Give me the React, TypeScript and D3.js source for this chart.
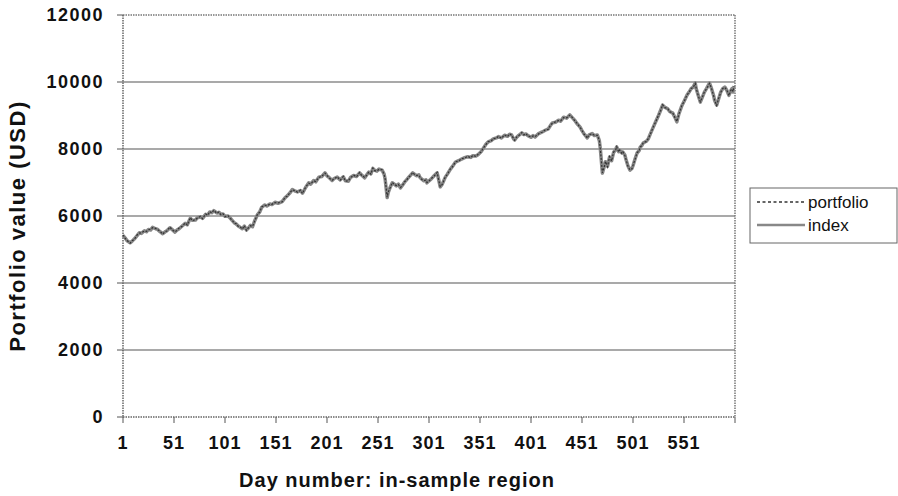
import React from "react";
import * as d3 from "d3";

const days = [1,3,5,8,10,12,15,17,19,22,24,26,28,30,33,35,37,40,42,44,47,49,52,54,56,59,62,64,67,69,72,74,77,79,82,84,86,88,90,93,95,97,99,101,104,106,108,110,112,114,116,118,120,122,124,126,128,130,133,135,137,140,142,145,147,150,153,157,160,162,165,167,170,172,175,177,180,183,185,188,190,193,196,199,201,203,206,208,211,214,217,219,222,224,227,230,233,235,238,240,242,244,246,248,250,252,255,257,258,260,261,263,265,267,269,271,273,275,277,279,281,283,285,287,289,291,292,294,296,298,299,301,303,306,309,310,312,314,317,319,322,324,327,330,333,336,339,342,344,347,349,352,354,357,359,362,364,367,369,372,375,378,380,382,384,385,387,389,392,394,396,398,401,403,405,408,410,412,415,418,420,422,425,428,430,433,436,439,441,444,446,449,451,453,455,456,458,461,463,466,468,469,471,473,474,476,478,480,482,484,485,487,488,490,491,493,494,496,498,500,501,503,505,507,508,510,511,514,516,518,521,523,526,528,530,532,535,537,540,542,544,546,549,551,554,556,558,560,562,563,565,567,569,571,573,576,578,580,581,583,585,587,589,591,593,595,597,598,599,600];

const indexValues = [5420,5350,5260,5200,5250,5310,5420,5500,5480,5560,5530,5600,5580,5660,5620,5600,5540,5470,5520,5560,5650,5600,5520,5580,5620,5700,5780,5740,5930,5870,5880,5950,5970,5930,6050,6030,6120,6100,6160,6090,6110,6050,6060,5990,6000,5940,5870,5800,5760,5700,5660,5620,5700,5580,5640,5720,5680,5850,6050,6120,6260,6330,6300,6360,6340,6410,6380,6430,6550,6600,6700,6790,6740,6720,6760,6680,6850,6990,6950,7060,7020,7160,7180,7290,7200,7150,7060,7120,7160,7080,7170,7050,7040,7150,7210,7180,7290,7220,7140,7230,7310,7260,7420,7360,7340,7400,7370,7250,7100,6550,6700,6860,6990,6950,6900,6950,6840,6920,7010,7080,7150,7220,7290,7240,7200,7230,7160,7100,7050,7080,6990,7050,7100,7200,7290,7150,6870,6950,7160,7250,7400,7480,7610,7650,7700,7740,7770,7750,7800,7790,7830,7920,8010,8150,8210,8250,8300,8330,8370,8330,8410,8380,8440,8420,8300,8270,8350,8410,8480,8430,8450,8400,8350,8400,8360,8450,8480,8510,8560,8600,8700,8780,8800,8860,8830,8950,8920,9020,8950,8850,8760,8660,8550,8450,8380,8330,8420,8460,8400,8420,8250,8000,7280,7500,7620,7480,7760,7650,7900,7980,8060,7920,7960,7880,7910,7820,7700,7500,7370,7420,7500,7700,7880,7950,8050,8120,8180,8230,8300,8450,8660,8800,9000,9150,9310,9250,9200,9120,9070,8950,8810,9050,9300,9420,9610,9700,9800,9850,9970,9800,9600,9400,9550,9700,9800,9970,9800,9600,9450,9310,9500,9700,9800,9850,9750,9600,9750,9800,9700,9880];

const portfolioValues = [5440,5340,5270,5190,5260,5300,5440,5490,5500,5550,5540,5590,5600,5650,5630,5590,5550,5460,5530,5550,5670,5590,5530,5570,5640,5690,5790,5730,5950,5860,5890,5940,5990,5920,6060,6020,6130,6090,6170,6080,6120,6040,6070,5980,6010,5930,5880,5790,5770,5690,5670,5610,5710,5570,5650,5710,5690,5840,6060,6110,6270,6320,6310,6350,6350,6400,6390,6420,6560,6590,6710,6780,6750,6710,6770,6670,6860,6980,6960,7050,7030,7150,7190,7280,7210,7140,7070,7110,7170,7070,7180,7040,7050,7140,7220,7170,7300,7210,7150,7220,7320,7250,7430,7350,7350,7390,7380,7240,7110,6560,6710,6850,7000,6940,6910,6940,6850,6910,7020,7070,7160,7210,7300,7230,7210,7220,7170,7090,7060,7070,7000,7040,7110,7190,7300,7140,6880,6940,7170,7240,7410,7470,7620,7640,7710,7730,7780,7740,7810,7780,7840,7910,8020,8140,8220,8240,8310,8320,8380,8320,8420,8370,8450,8410,8310,8260,8360,8400,8490,8420,8460,8390,8360,8390,8370,8440,8490,8500,8570,8590,8710,8770,8810,8850,8840,8940,8930,9010,8960,8840,8770,8650,8560,8440,8390,8320,8430,8450,8410,8410,8260,7990,7290,7490,7630,7470,7770,7640,7910,7970,8070,7910,7970,7870,7920,7810,7710,7490,7380,7410,7510,7690,7890,7940,8060,8110,8190,8220,8310,8440,8670,8790,9010,9140,9320,9240,9210,9110,9080,8940,8820,9040,9310,9410,9620,9690,9810,9840,9960,9810,9590,9410,9540,9710,9790,9960,9810,9590,9460,9300,9510,9690,9810,9840,9760,9590,9760,9790,9710,9870];

const yTicks = [0, 2000, 4000, 6000, 8000, 10000, 12000];
const xTickLabels = [1, 51, 101, 151, 201, 251, 301, 351, 401, 451, 501, 551];
const xTickMarks = [1, 51, 101, 151, 201, 251, 301, 351, 401, 451, 501, 551, 601];
const seriesNames = ["portfolio", "index"];

export default function App() {
  const left = 123, right = 735, top = 15, bottom = 417;
  const x = d3.scaleLinear().domain([1, 601]).range([left, right]);
  const y = d3.scaleLinear().domain([0, 12000]).range([bottom, top]);
  const line = d3.line<[number, number]>().x(d => x(d[0])).y(d => y(d[1]));
  const idx = line(days.map((d, i) => [d, indexValues[i]]) as [number, number][]) || "";
  const pf = line(days.map((d, i) => [d, portfolioValues[i]]) as [number, number][]) || "";
  const font = "'Liberation Sans', Arial, Helvetica, sans-serif";

  return (
    <svg width={898} height={496} style={{ position: "absolute", left: 0, top: 0, background: "#fff" }} fontFamily={font}>
      {yTicks.filter(t => t > 0 && t < 12000).map(t => (
        <line key={t} x1={left} x2={right} y1={y(t)} y2={y(t)} stroke="#555" strokeWidth={1.2} />
      ))}
      <line x1={left} x2={right} y1={top} y2={top} stroke="#777" strokeWidth={1.5} strokeDasharray="1.5,1" />
      <line x1={left} x2={left} y1={top} y2={bottom} stroke="#666" strokeWidth={1.5} strokeDasharray="1.5,1" />
      <line x1={right} x2={right} y1={top} y2={bottom} stroke="#777" strokeWidth={1.5} strokeDasharray="1.5,1" />
      <line x1={left} x2={right} y1={bottom} y2={bottom} stroke="#666" strokeWidth={1.5} strokeDasharray="1.5,1" />
      {yTicks.map(t => (
        <g key={t}>
          <line x1={left - 6} x2={left} y1={y(t)} y2={y(t)} stroke="#555" strokeWidth={1} />
          <text x={104} y={y(t)} dy="0.36em" textAnchor="end" fontSize={18} fontWeight="bold" letterSpacing={1.5} fill="#111">{t}</text>
        </g>
      ))}
      {xTickMarks.map(t => (
        <line key={t} x1={x(t)} x2={x(t)} y1={bottom} y2={bottom + 6} stroke="#555" strokeWidth={1} />
      ))}
      {xTickLabels.map(t => (
        <text key={t} x={x(t)} y={449} textAnchor="middle" fontSize={18} fontWeight="bold" letterSpacing={1} fill="#111">{t}</text>
      ))}
      <path d={idx} fill="none" stroke="#888" strokeWidth={3.5} strokeLinejoin="round" />
      <path d={pf} fill="none" stroke="#333" strokeWidth={1.2} strokeDasharray="2,1.5" />
      <text x={397} y={487} textAnchor="middle" fontSize={20} fontWeight="bold" letterSpacing={1} fill="#111">Day number: in-sample region</text>
      <text transform="translate(25,226) rotate(-90)" textAnchor="middle" fontSize={22} fontWeight="bold" letterSpacing={1.5} fill="#111">Portfolio value (USD)</text>
      <rect x={750} y={188} width={147} height={55} fill="#fff" stroke="#666" strokeWidth={1} />
      <line x1={757} x2={805} y1={202} y2={202} stroke="#333" strokeWidth={1.5} strokeDasharray="3,2.5" />
      <text x={808} y={202} dy="0.35em" fontSize={17} fill="#111">{seriesNames[0]}</text>
      <line x1={757} x2={805} y1={225} y2={225} stroke="#888" strokeWidth={2.5} />
      <text x={808} y={225} dy="0.35em" fontSize={17} fill="#111">{seriesNames[1]}</text>
    </svg>
  );
}
